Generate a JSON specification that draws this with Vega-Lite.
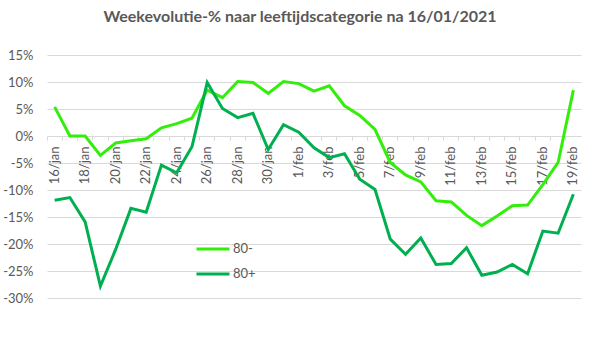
{
  "$schema": "https://vega.github.io/schema/vega-lite/v6.json",
  "autosize": "none",
  "width": 534,
  "height": 243,
  "padding": {"left": 47, "top": 55, "right": 18, "bottom": 61},
  "background": "white",
  "config": {
    "font": "Lato",
    "view": {"stroke": null}
  },
  "title": {
    "text": "Weekevolutie-% naar leeftijdscategorie  na 16/01/2021",
    "font": "Lato",
    "fontSize": 16,
    "fontWeight": "bold",
    "color": "#595959",
    "anchor": "middle",
    "dx": -14,
    "offset": 24
  },
  "data": {
    "values": [
      {"d": "16/jan", "g": "80-", "v": 5.4}, {"d": "17/jan", "g": "80-", "v": 0.0}, {"d": "18/jan", "g": "80-", "v": 0.0},
      {"d": "19/jan", "g": "80-", "v": -3.6}, {"d": "20/jan", "g": "80-", "v": -1.3}, {"d": "21/jan", "g": "80-", "v": -0.9},
      {"d": "22/jan", "g": "80-", "v": -0.5}, {"d": "23/jan", "g": "80-", "v": 1.5}, {"d": "24/jan", "g": "80-", "v": 2.3},
      {"d": "25/jan", "g": "80-", "v": 3.3}, {"d": "26/jan", "g": "80-", "v": 8.5}, {"d": "27/jan", "g": "80-", "v": 7.1},
      {"d": "28/jan", "g": "80-", "v": 10.1}, {"d": "29/jan", "g": "80-", "v": 9.9}, {"d": "30/jan", "g": "80-", "v": 7.9},
      {"d": "31/jan", "g": "80-", "v": 10.1}, {"d": "1/feb", "g": "80-", "v": 9.7}, {"d": "2/feb", "g": "80-", "v": 8.3},
      {"d": "3/feb", "g": "80-", "v": 9.3}, {"d": "4/feb", "g": "80-", "v": 5.6}, {"d": "5/feb", "g": "80-", "v": 3.8},
      {"d": "6/feb", "g": "80-", "v": 1.2}, {"d": "7/feb", "g": "80-", "v": -4.9}, {"d": "8/feb", "g": "80-", "v": -7.2},
      {"d": "9/feb", "g": "80-", "v": -8.5}, {"d": "10/feb", "g": "80-", "v": -12.0}, {"d": "11/feb", "g": "80-", "v": -12.2},
      {"d": "12/feb", "g": "80-", "v": -14.7}, {"d": "13/feb", "g": "80-", "v": -16.6}, {"d": "14/feb", "g": "80-", "v": -14.8},
      {"d": "15/feb", "g": "80-", "v": -12.9}, {"d": "16/feb", "g": "80-", "v": -12.8}, {"d": "17/feb", "g": "80-", "v": -9.0},
      {"d": "18/feb", "g": "80-", "v": -4.9}, {"d": "19/feb", "g": "80-", "v": 8.5},
      {"d": "16/jan", "g": "80+", "v": -11.9}, {"d": "17/jan", "g": "80+", "v": -11.4}, {"d": "18/jan", "g": "80+", "v": -15.9},
      {"d": "19/jan", "g": "80+", "v": -27.8}, {"d": "20/jan", "g": "80+", "v": -21.0}, {"d": "21/jan", "g": "80+", "v": -13.4},
      {"d": "22/jan", "g": "80+", "v": -14.1}, {"d": "23/jan", "g": "80+", "v": -5.4}, {"d": "24/jan", "g": "80+", "v": -6.8},
      {"d": "25/jan", "g": "80+", "v": -2.0}, {"d": "26/jan", "g": "80+", "v": 9.9}, {"d": "27/jan", "g": "80+", "v": 5.1},
      {"d": "28/jan", "g": "80+", "v": 3.4}, {"d": "29/jan", "g": "80+", "v": 4.2}, {"d": "30/jan", "g": "80+", "v": -2.5},
      {"d": "31/jan", "g": "80+", "v": 2.1}, {"d": "1/feb", "g": "80+", "v": 0.7}, {"d": "2/feb", "g": "80+", "v": -2.2},
      {"d": "3/feb", "g": "80+", "v": -4.0}, {"d": "4/feb", "g": "80+", "v": -3.3}, {"d": "5/feb", "g": "80+", "v": -8.0},
      {"d": "6/feb", "g": "80+", "v": -9.9}, {"d": "7/feb", "g": "80+", "v": -19.1}, {"d": "8/feb", "g": "80+", "v": -21.9},
      {"d": "9/feb", "g": "80+", "v": -18.9}, {"d": "10/feb", "g": "80+", "v": -23.8}, {"d": "11/feb", "g": "80+", "v": -23.6},
      {"d": "12/feb", "g": "80+", "v": -20.7}, {"d": "13/feb", "g": "80+", "v": -25.8}, {"d": "14/feb", "g": "80+", "v": -25.2},
      {"d": "15/feb", "g": "80+", "v": -23.8}, {"d": "16/feb", "g": "80+", "v": -25.5}, {"d": "17/feb", "g": "80+", "v": -17.6},
      {"d": "18/feb", "g": "80+", "v": -18.0}, {"d": "19/feb", "g": "80+", "v": -10.8}
    ]
  },
  "mark": {"type": "line", "strokeWidth": 3, "strokeJoin": "miter"},
  "encoding": {
    "x": {
      "field": "d",
      "type": "ordinal",
      "sort": null,
      "bandPosition": 0.5,
      "scale": {"type": "band", "paddingInner": 0, "paddingOuter": 0},
      "axis": {
        "title": null,
        "orient": "bottom",
        "offset": -162,
        "bandPosition": 0,
        "domainColor": "#d9d9d9",
        "domainWidth": 1,
        "tickColor": "#d9d9d9",
        "tickSize": 4,
        "labelAngle": -90,
        "labelAlign": "right",
        "labelBaseline": "middle",
        "labelPadding": 6,
        "labelFont": "Lato",
        "labelFontSize": 13,
        "labelColor": "#595959",
        "labelOverlap": false,
        "labelExpr": "((parseInt(split(datum.label, '/')[0]) % 2 == 0) == (indexof(datum.label, 'jan') >= 0)) ? datum.label : ''",
        "grid": false
      }
    },
    "y": {
      "field": "v",
      "type": "quantitative",
      "scale": {"domain": [-30, 15], "nice": false, "zero": false},
      "axis": {
        "title": null,
        "values": [-30, -25, -20, -15, -10, -5, 0, 5, 10, 15],
        "labelExpr": "datum.value + '%'",
        "domain": false,
        "ticks": false,
        "grid": true,
        "gridColor": "#d9d9d9",
        "gridWidth": 1,
        "labelPadding": 14,
        "labelFont": "Lato",
        "labelFontSize": 13,
        "labelColor": "#595959"
      }
    },
    "color": {
      "field": "g",
      "type": "nominal",
      "scale": {"domain": ["80-", "80+"], "range": ["#33EE0A", "#00B050"]},
      "legend": {
        "title": null,
        "orient": "none",
        "legendX": 148,
        "legendY": 176,
        "symbolType": "stroke",
        "symbolSize": 1089,
        "symbolStrokeWidth": 3,
        "labelOffset": 2,
        "rowPadding": -8,
        "labelFont": "Lato",
        "labelFontSize": 13,
        "labelColor": "#595959"
      }
    }
  }
}
